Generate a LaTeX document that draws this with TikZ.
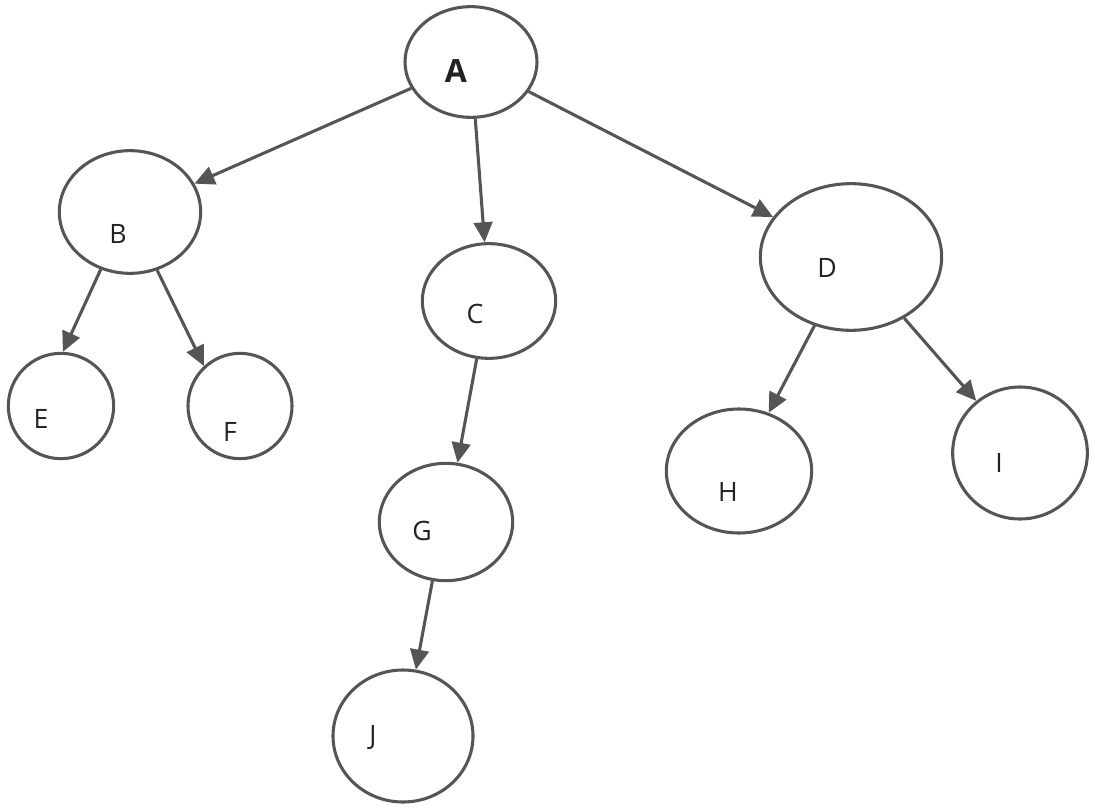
\documentclass[tikz,border=0pt]{standalone}
\usepackage{fontspec}
\setmainfont{Open Sans}
\usetikzlibrary{shapes.geometric,arrows.meta}
\definecolor{edgegray}{HTML}{555555}
\definecolor{txt}{HTML}{222222}
\begin{document}
\begin{tikzpicture}[x=0.75pt,y=-0.75pt,
  vert/.style={ellipse,draw=edgegray,line width=2.3pt,fill=white,inner sep=0pt},
  lbl/.style={text=txt,font=\fontsize{20}{24}\selectfont,inner sep=0pt},
  lblbold/.style={text=txt,font=\fontsize{24}{28}\selectfont\bfseries,inner sep=0pt},
  conn/.style={draw=edgegray,line width=2.3pt,-{Triangle[length=15pt,width=14pt]}}]
\useasboundingbox (0,0) rectangle (1095,809);
\node[vert,minimum width=99pt,minimum height=83pt] (A) at (471,62) {};
\node[vert,minimum width=106pt,minimum height=92pt] (B) at (130,212) {};
\node[vert,minimum width=100pt,minimum height=86pt] (C) at (489,301) {};
\node[vert,minimum width=136pt,minimum height=110pt] (D) at (851,257) {};
\node[vert,minimum width=79pt,minimum height=79pt] (E) at (61,406) {};
\node[vert,minimum width=78pt,minimum height=79pt] (F) at (240,406) {};
\node[vert,minimum width=100pt,minimum height=88pt] (G) at (446,522) {};
\node[vert,minimum width=109pt,minimum height=93pt] (H) at (739,471) {};
\node[vert,minimum width=101pt,minimum height=99pt] (I) at (1020,453) {};
\node[vert,minimum width=105pt,minimum height=99pt] (J) at (403,736) {};
\node[lblbold] (tA) at (456,71) {A};
\node[lbl] (tB) at (118,234) {B};
\node[lbl] (tC) at (475,314) {C};
\node[lbl] (tD) at (827,268) {D};
\node[lbl] (tE) at (41,419) {E};
\node[lbl] (tF) at (230,432) {F};
\node[lbl] (tG) at (422,531) {G};
\node[lbl] (tH) at (728,492) {H};
\node[lbl] (tI) at (999,463) {I};
\node[lbl] (tJ) at (373,737) {J};
\draw[conn] (A) -- (B);
\draw[conn] (A) -- (C);
\draw[conn] (A) -- (D);
\draw[conn] (B.243) -- (E.88);
\draw[conn] (B.295) -- (F.132);
\draw[conn] (C.258) -- (G.79);
\draw[conn] (G.257) -- (J.79);
\draw[conn] (D.242) -- (H.63);
\draw[conn] (D.311) -- (I.130);
\end{tikzpicture}
\end{document}
